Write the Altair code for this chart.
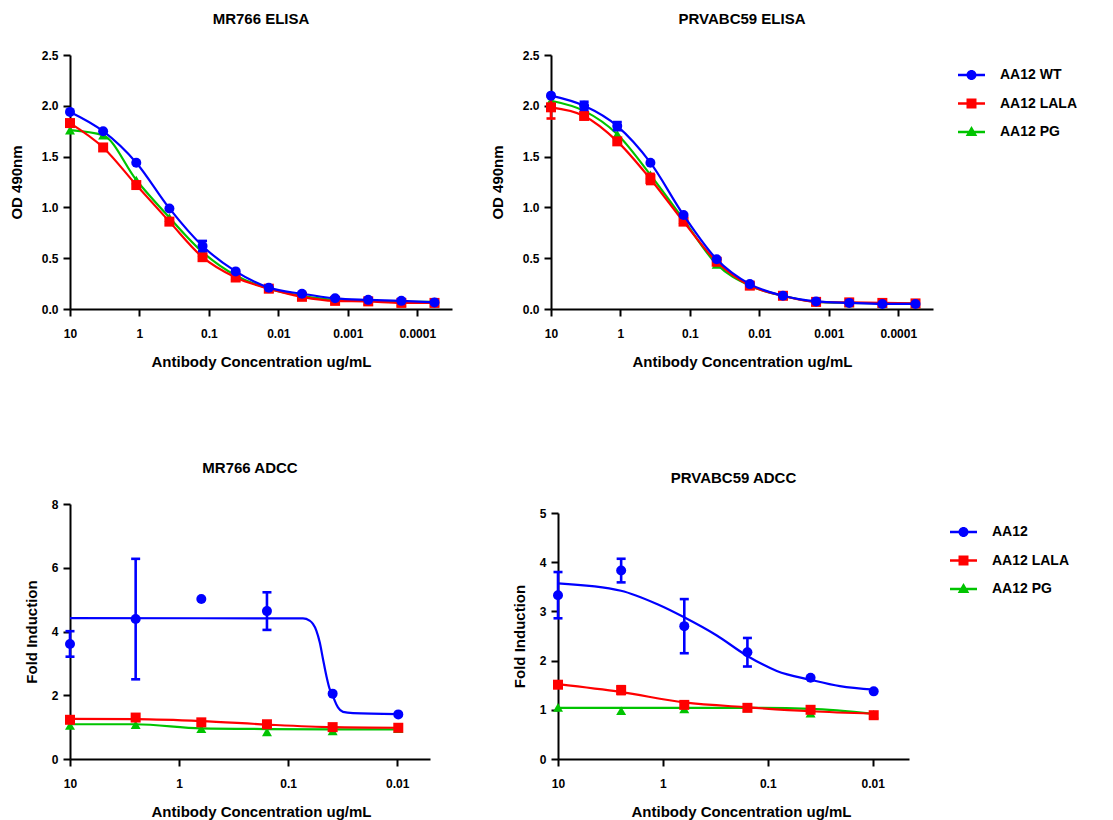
import altair as alt
import pandas as pd

FONT = "Liberation Sans"
BLUE, RED, GREEN = "#0000FF", "#FF0000", "#00C400"

# ---------------- data ----------------
elisa_series = ["AA12 WT", "AA12 LALA", "AA12 PG"]
adcc_series = ["AA12", "AA12 LALA", "AA12 PG"]
series_colors = [BLUE, RED, GREEN]
series_shapes = ["circle", "square", "triangle-up"]

elisa_conc = [10, 3.333, 1.111, 0.3704, 0.1235, 0.04115, 0.01372,
              0.004572, 0.001524, 0.000508, 0.0001694, 0.00005645]
elisa_ticks = [10, 1, 0.1, 0.01, 0.001, 0.0001]
adcc_conc = [10, 2.5, 0.625, 0.1563, 0.03906, 0.009766]
adcc_ticks = [10, 1, 0.1, 0.01]

# MR766 ELISA
mr_elisa_wt = [1.94, 1.75, 1.44, 0.99, 0.62, 0.37, 0.21, 0.15, 0.105, 0.09, 0.08, 0.065]
mr_elisa_wt_sd = [0, 0, 0, 0, 0.05, 0, 0, 0, 0, 0, 0, 0]
mr_elisa_lala = [1.83, 1.59, 1.22, 0.86, 0.51, 0.31, 0.20, 0.12, 0.08, 0.075, 0.06, 0.06]
mr_elisa_lala_sd = [0, 0, 0, 0.03, 0, 0, 0, 0, 0, 0, 0, 0]
mr_elisa_pg = [1.76, 1.71, 1.27, 0.90, 0.56, 0.33, 0.20, 0.13, 0.09, 0.08, 0.07, 0.07]
mr_elisa_pg_sd = [0, 0, 0, 0, 0, 0, 0, 0, 0, 0, 0, 0]

# PRVABC59 ELISA
prv_elisa_wt = [2.10, 2.00, 1.80, 1.44, 0.925, 0.49, 0.245, 0.13, 0.075, 0.06, 0.05, 0.05]
prv_elisa_wt_sd = [0, 0.04, 0.04, 0, 0, 0, 0, 0, 0, 0, 0, 0]
prv_elisa_lala = [1.985, 1.90, 1.65, 1.28, 0.86, 0.465, 0.23, 0.13, 0.07, 0.065, 0.06, 0.055]
prv_elisa_lala_sd = [0.11, 0, 0, 0.05, 0, 0, 0, 0, 0, 0, 0, 0]
prv_elisa_pg = [2.05, 1.95, 1.72, 1.32, 0.88, 0.44, 0.23, 0.13, 0.07, 0.06, 0.055, 0.05]
prv_elisa_pg_sd = [0, 0, 0, 0, 0, 0, 0, 0, 0, 0, 0, 0]

# MR766 ADCC
mr_adcc_wt = [3.61, 4.39, 5.02, 4.64, 2.05, 1.40]
mr_adcc_wt_sd = [0.40, 1.89, 0, 0.59, 0, 0]
mr_adcc_lala = [1.23, 1.30, 1.15, 1.09, 1.00, 0.98]
mr_adcc_lala_sd = [0, 0, 0, 0, 0, 0]
mr_adcc_pg = [1.05, 1.08, 0.95, 0.85, 0.88, 0.95]
mr_adcc_pg_sd = [0, 0, 0, 0, 0, 0]
# fitted curves
mr_adcc_wt_fit_conc = [10, 0.0731, 0.0635, 0.0592, 0.0551, 0.0513, 0.0479, 0.0446,
                       0.0416, 0.0393, 0.0374, 0.0349, 0.0314, 0.0254, 0.0101]
mr_adcc_wt_fit = [4.42, 4.41, 4.34, 4.24, 4.03, 3.66, 3.14, 2.61,
                  2.20, 2.04, 1.83, 1.62, 1.48, 1.44, 1.41]
mr_adcc_lala_fit = [1.26, 1.25, 1.19, 1.08, 1.00, 0.98]
mr_adcc_pg_fit = [1.09, 1.09, 0.96, 0.94, 0.93, 0.93]

# PRVABC59 ADCC
prv_adcc_wt = [3.33, 3.83, 2.70, 2.17, 1.65, 1.375]
prv_adcc_wt_sd = [0.47, 0.24, 0.55, 0.29, 0, 0]
prv_adcc_lala = [1.51, 1.40, 1.10, 1.04, 1.00, 0.89]
prv_adcc_lala_sd = [0, 0.08, 0, 0, 0, 0]
prv_adcc_pg = [1.05, 0.98, 1.02, 1.04, 0.93, 0.91]
prv_adcc_pg_sd = [0, 0, 0, 0, 0, 0]
prv_adcc_wt_fit_conc = [10, 2.51, 1.14, 0.627, 0.306, 0.158, 0.082, 0.039, 0.0205, 0.0097]
prv_adcc_wt_fit = [3.57, 3.42, 3.15, 2.88, 2.51, 2.10, 1.79, 1.61, 1.48, 1.41]
prv_adcc_lala_fit = [1.52, 1.36, 1.15, 1.05, 0.97, 0.92]
prv_adcc_pg_fit = [1.04, 1.04, 1.04, 1.04, 1.02, 0.92]

# legend glyphs: line + marker (unit box -1..1)
BAR = "M-1,-0.1H1V0.1H-1Z "
legend_paths = [
    BAR + "M-0.37,0A0.37,0.37,0,1,1,0.37,0A0.37,0.37,0,1,1,-0.37,0Z",
    BAR + "M-0.37,-0.37H0.37V0.37H-0.37Z",
    BAR + "M0,-0.45L0.43,0.3H-0.43Z",
]


def build_points(conc, names, vals, sds):
    rows = []
    for name, v, s in zip(names, vals, sds):
        for c, y, e in zip(conc, v, s):
            rows.append(dict(series=name, conc=c, value=y, lo=y - e, hi=y + e, sd=e))
    return pd.DataFrame(rows)


def build_curves(curves):
    rows = []
    for name, cs, vs in curves:
        for c, y in zip(cs, vs):
            rows.append(dict(series=name, conc=c, value=y))
    return pd.DataFrame(rows)


def panel(title, pts, crv, names, xdomain, xticks, ytitle, ydomain, yticks, yfmt,
          w, h, yrange=None, title_offset=30, xtitle_x=None, ytitle_pad=12,
          legend_xy=None):
    xscale = alt.Scale(type="log", domain=xdomain, reverse=True, nice=False)
    xaxis_kw = dict(values=xticks, format="~g", title="Antibody Concentration ug/mL",
                    labelPadding=12, titlePadding=15, labelFlush=False)
    if xtitle_x is not None:
        xaxis_kw["titleX"] = xtitle_x
    xaxis = alt.Axis(**xaxis_kw)
    ys_kw = dict(domain=ydomain, nice=False, zero=False)
    if yrange is not None:
        ys_kw["range"] = yrange
    yscale = alt.Scale(**ys_kw)
    yaxis = alt.Axis(values=yticks, format=yfmt, title=ytitle, labelPadding=5,
                     titlePadding=ytitle_pad)
    color = alt.Color("series:N", scale=alt.Scale(domain=names, range=series_colors), legend=None)
    shape = alt.Shape("series:N", scale=alt.Scale(domain=names, range=series_shapes), legend=None)
    X = alt.X("conc:Q", scale=xscale, axis=xaxis)
    Y = alt.Y("value:Q", scale=yscale, axis=yaxis)

    layers = []
    for name in reversed(names):
        sel = alt.datum.series == name
        layers.append(
            alt.Chart(crv).transform_filter(sel)
            .mark_line(interpolate="monotone", strokeWidth=2.2)
            .encode(x=X, y=Y, color=color)
        )
        layers.append(
            alt.Chart(pts).transform_filter(sel & (alt.datum.sd > 0))
            .mark_rule(strokeWidth=2.6)
            .encode(x=X, y=alt.Y("lo:Q", scale=yscale, axis=yaxis), y2="hi:Q", color=color)
        )
        layers.append(
            alt.Chart(pts).transform_filter(sel & (alt.datum.sd > 0))
            .transform_fold(["lo", "hi"], as_=["end", "cap"])
            .mark_tick(orient="horizontal", size=9, thickness=2.6, opacity=1)
            .encode(x=X, y=alt.Y("cap:Q", scale=yscale, axis=yaxis), color=color)
        )
        layers.append(
            alt.Chart(pts).transform_filter(sel)
            .mark_point(filled=True, opacity=1, size=100)
            .encode(x=X, y=Y, color=color, shape=shape)
        )
    if legend_xy is not None:
        leg = dict(orient="none", legendX=legend_xy[0], legendY=legend_xy[1], title=None,
                   symbolSize=729, symbolStrokeWidth=0, symbolOpacity=1,
                   labelFont=FONT, labelFontSize=14, labelFontWeight="bold",
                   labelColor="black", labelOffset=15, rowPadding=7.5, padding=0,
                   labelLimit=300)
        layers.append(
            alt.Chart(pts).transform_filter("false")
            .mark_point(filled=True, opacity=1)
            .encode(
                fill=alt.Fill("series:N", scale=alt.Scale(domain=names, range=series_colors),
                              legend=alt.Legend(**leg)),
                shape=alt.Shape("series:N", scale=alt.Scale(domain=names, range=legend_paths),
                                legend=alt.Legend(**leg)),
            )
        )
    ch = alt.layer(*layers).properties(
        width=w, height=h,
        title=alt.TitleParams(title, font=FONT, fontSize=15, fontWeight="bold", color="black",
                              anchor="middle", frame="group", offset=title_offset),
    )
    if legend_xy is not None:
        ch = ch.resolve_scale(shape="independent", fill="independent")
    return ch


tl = panel("MR766 ELISA",
           build_points(elisa_conc, elisa_series, [mr_elisa_wt, mr_elisa_lala, mr_elisa_pg],
                        [mr_elisa_wt_sd, mr_elisa_lala_sd, mr_elisa_pg_sd]),
           build_curves([(elisa_series[0], elisa_conc, mr_elisa_wt),
                         (elisa_series[1], elisa_conc, mr_elisa_lala),
                         (elisa_series[2], elisa_conc, mr_elisa_pg)]),
           elisa_series, [0.0000316, 10], elisa_ticks, "OD 490nm", [0, 2.5],
           [0, 0.5, 1, 1.5, 2, 2.5], ".1f", 382, 254, title_offset=22, ytitle_pad=17)

tr = panel("PRVABC59 ELISA",
           build_points(elisa_conc, elisa_series, [prv_elisa_wt, prv_elisa_lala, prv_elisa_pg],
                        [prv_elisa_wt_sd, prv_elisa_lala_sd, prv_elisa_pg_sd]),
           build_curves([(elisa_series[0], elisa_conc, prv_elisa_wt),
                         (elisa_series[1], elisa_conc, prv_elisa_lala),
                         (elisa_series[2], elisa_conc, prv_elisa_pg)]),
           elisa_series, [0.0000316, 10], elisa_ticks, "OD 490nm", [0, 2.5],
           [0, 0.5, 1, 1.5, 2, 2.5], ".1f", 382, 254, title_offset=22, ytitle_pad=17,
           legend_xy=(407, 6.5))

bl = panel("MR766 ADCC",
           build_points(adcc_conc, adcc_series, [mr_adcc_wt, mr_adcc_lala, mr_adcc_pg],
                        [mr_adcc_wt_sd, mr_adcc_lala_sd, mr_adcc_pg_sd]),
           build_curves([(adcc_series[0], mr_adcc_wt_fit_conc, mr_adcc_wt_fit),
                         (adcc_series[1], adcc_conc, mr_adcc_lala_fit),
                         (adcc_series[2], adcc_conc, mr_adcc_pg_fit)]),
           adcc_series, [0.005, 10], adcc_ticks, "Fold Induction", [0, 8],
           [0, 2, 4, 6, 8], "d", 360, 255, title_offset=22, xtitle_x=191, ytitle_pad=12)

br = panel("PRVABC59 ADCC",
           build_points(adcc_conc, adcc_series, [prv_adcc_wt, prv_adcc_lala, prv_adcc_pg],
                        [prv_adcc_wt_sd, prv_adcc_lala_sd, prv_adcc_pg_sd]),
           build_curves([(adcc_series[0], prv_adcc_wt_fit_conc, prv_adcc_wt_fit),
                         (adcc_series[1], adcc_conc, prv_adcc_lala_fit),
                         (adcc_series[2], adcc_conc, prv_adcc_pg_fit)]),
           adcc_series, [0.0045, 10], adcc_ticks, "Fold Induction", [0, 5],
           [0, 1, 2, 3, 4, 5], "d", 351, 255, yrange=[255, 9], title_offset=18.5,
           xtitle_x=183, ytitle_pad=12, legend_xy=(392, 14.5))

RES = dict(color="independent", shape="independent", fill="independent")
top = alt.hconcat(tl, tr, spacing=99, bounds="flush").resolve_scale(**RES)
bottom = alt.hconcat(bl, br, spacing=128, bounds="flush").resolve_scale(**RES)

chart = (
    alt.vconcat(top, bottom, spacing=449, bounds="flush")
    .resolve_scale(**RES)
    .properties(padding={"left": 1, "top": 4, "right": 5, "bottom": 5}, background="white")
    .configure_view(stroke=None)
    .configure_axis(domainColor="black", domainWidth=2, tickColor="black", tickWidth=2,
                    tickSize=7, labelFont=FONT, labelFontSize=12, labelFontWeight="bold",
                    labelColor="black", titleFont=FONT, titleFontSize=15,
                    titleFontWeight="bold", titleColor="black", grid=False)
)

chart.save("out.html", embed_options={"renderer": "svg", "actions": False})
